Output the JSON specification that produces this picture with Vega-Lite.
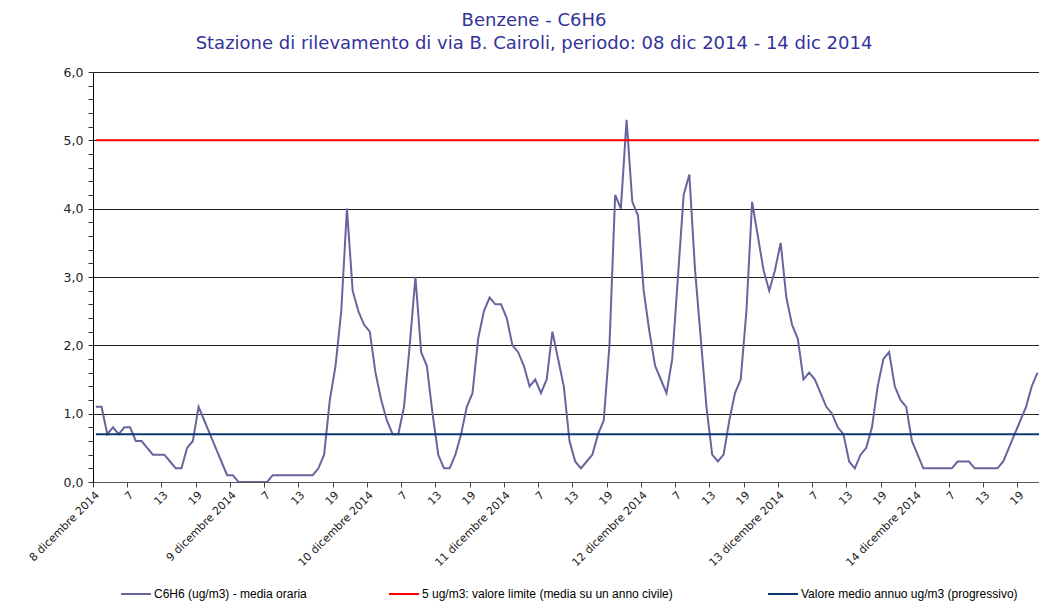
{
  "$schema": "https://vega.github.io/schema/vega-lite/v6.json",
  "width": 946,
  "height": 410,
  "autosize": {"type": "none"},
  "padding": {"left": 93, "top": 72, "right": 0, "bottom": 119},
  "background": "white",
  "title": {
    "text": ["Benzene - C6H6", "Stazione di rilevamento di via B. Cairoli, periodo: 08 dic 2014 - 14 dic 2014"],
    "font": "DejaVu Sans",
    "fontSize": 18,
    "fontWeight": "normal",
    "color": "#333399",
    "lineHeight": 23,
    "anchor": "middle",
    "dx": -32,
    "offset": 13
  },
  "config": {
    "view": {"stroke": null},
    "legend": {
      "orient": "none",
      "direction": "horizontal",
      "labelFont": "Liberation Sans",
      "labelFontSize": 12,
      "labelColor": "#000000",
      "labelOffset": 2,
      "labelLimit": 500,
      "symbolStrokeWidth": 2,
      "symbolSize": 900,
      "symbolType": "stroke",
      "padding": 0
    }
  },
  "data": {"values": [
    {"h":1,"v":1.1},{"h":2,"v":1.1},{"h":3,"v":0.7},{"h":4,"v":0.8},{"h":5,"v":0.7},{"h":6,"v":0.8},{"h":7,"v":0.8},{"h":8,"v":0.6},{"h":9,"v":0.6},{"h":10,"v":0.5},{"h":11,"v":0.4},{"h":12,"v":0.4},{"h":13,"v":0.4},{"h":14,"v":0.3},{"h":15,"v":0.2},{"h":16,"v":0.2},{"h":17,"v":0.5},{"h":18,"v":0.6},{"h":19,"v":1.1},{"h":20,"v":0.9},{"h":21,"v":0.7},{"h":22,"v":0.5},{"h":23,"v":0.3},{"h":24,"v":0.1},
    {"h":25,"v":0.1},{"h":26,"v":0},{"h":27,"v":0},{"h":28,"v":0},{"h":29,"v":0},{"h":30,"v":0},{"h":31,"v":0},{"h":32,"v":0.1},{"h":33,"v":0.1},{"h":34,"v":0.1},{"h":35,"v":0.1},{"h":36,"v":0.1},{"h":37,"v":0.1},{"h":38,"v":0.1},{"h":39,"v":0.1},{"h":40,"v":0.2},{"h":41,"v":0.4},{"h":42,"v":1.2},{"h":43,"v":1.7},{"h":44,"v":2.5},{"h":45,"v":4.0},{"h":46,"v":2.8},{"h":47,"v":2.5},{"h":48,"v":2.3},
    {"h":49,"v":2.2},{"h":50,"v":1.6},{"h":51,"v":1.2},{"h":52,"v":0.9},{"h":53,"v":0.7},{"h":54,"v":0.7},{"h":55,"v":1.1},{"h":56,"v":2.0},{"h":57,"v":3.0},{"h":58,"v":1.9},{"h":59,"v":1.7},{"h":60,"v":1.0},{"h":61,"v":0.4},{"h":62,"v":0.2},{"h":63,"v":0.2},{"h":64,"v":0.4},{"h":65,"v":0.7},{"h":66,"v":1.1},{"h":67,"v":1.3},{"h":68,"v":2.1},{"h":69,"v":2.5},{"h":70,"v":2.7},{"h":71,"v":2.6},{"h":72,"v":2.6},
    {"h":73,"v":2.4},{"h":74,"v":2.0},{"h":75,"v":1.9},{"h":76,"v":1.7},{"h":77,"v":1.4},{"h":78,"v":1.5},{"h":79,"v":1.3},{"h":80,"v":1.5},{"h":81,"v":2.2},{"h":82,"v":1.8},{"h":83,"v":1.4},{"h":84,"v":0.6},{"h":85,"v":0.3},{"h":86,"v":0.2},{"h":87,"v":0.3},{"h":88,"v":0.4},{"h":89,"v":0.7},{"h":90,"v":0.9},{"h":91,"v":2.0},{"h":92,"v":4.2},{"h":93,"v":4.0},{"h":94,"v":5.3},{"h":95,"v":4.1},{"h":96,"v":3.9},
    {"h":97,"v":2.8},{"h":98,"v":2.2},{"h":99,"v":1.7},{"h":100,"v":1.5},{"h":101,"v":1.3},{"h":102,"v":1.8},{"h":103,"v":3.0},{"h":104,"v":4.2},{"h":105,"v":4.5},{"h":106,"v":3.1},{"h":107,"v":2.1},{"h":108,"v":1.1},{"h":109,"v":0.4},{"h":110,"v":0.3},{"h":111,"v":0.4},{"h":112,"v":0.9},{"h":113,"v":1.3},{"h":114,"v":1.5},{"h":115,"v":2.5},{"h":116,"v":4.1},{"h":117,"v":3.6},{"h":118,"v":3.1},{"h":119,"v":2.8},{"h":120,"v":3.1},
    {"h":121,"v":3.5},{"h":122,"v":2.7},{"h":123,"v":2.3},{"h":124,"v":2.1},{"h":125,"v":1.5},{"h":126,"v":1.6},{"h":127,"v":1.5},{"h":128,"v":1.3},{"h":129,"v":1.1},{"h":130,"v":1.0},{"h":131,"v":0.8},{"h":132,"v":0.7},{"h":133,"v":0.3},{"h":134,"v":0.2},{"h":135,"v":0.4},{"h":136,"v":0.5},{"h":137,"v":0.8},{"h":138,"v":1.4},{"h":139,"v":1.8},{"h":140,"v":1.9},{"h":141,"v":1.4},{"h":142,"v":1.2},{"h":143,"v":1.1},{"h":144,"v":0.6},
    {"h":145,"v":0.4},{"h":146,"v":0.2},{"h":147,"v":0.2},{"h":148,"v":0.2},{"h":149,"v":0.2},{"h":150,"v":0.2},{"h":151,"v":0.2},{"h":152,"v":0.3},{"h":153,"v":0.3},{"h":154,"v":0.3},{"h":155,"v":0.2},{"h":156,"v":0.2},{"h":157,"v":0.2},{"h":158,"v":0.2},{"h":159,"v":0.2},{"h":160,"v":0.3},{"h":161,"v":0.5},{"h":162,"v":0.7},{"h":163,"v":0.9},{"h":164,"v":1.1},{"h":165,"v":1.4},{"h":166,"v":1.6}
  ]},
  "encoding": {
    "x": {
      "field": "h", "type": "quantitative",
      "scale": {"domain": [0.5, 166.27], "nice": false, "zero": false},
      "axis": {
        "title": null,
        "values": [0.5,6.5,12.5,18.5,24.5,30.5,36.5,42.5,48.5,54.5,60.5,66.5,72.5,78.5,84.5,90.5,96.5,102.5,108.5,114.5,120.5,126.5,132.5,138.5,144.5,150.5,156.5,162.5],
        "labelExpr": "(datum.value - 0.5) % 24 == 0 ? ((datum.value - 0.5) / 24 + 8) + ' dicembre 2014' : '' + ((datum.value - 0.5) % 24 + 1)",
        "labelAngle": -45,
        "labelAlign": "right",
        "labelBaseline": "top",
        "labelFont": "DejaVu Sans",
        "labelFontSize": 11,
        "labelColor": "#222222",
        "labelOverlap": false,
        "labelFlush": false,
        "labelBound": false,
        "labelPadding": 2,
        "tickSize": 5,
        "tickColor": "#444444",
        "domainColor": "#555555",
        "grid": false
      }
    },
    "y": {
      "field": "v", "type": "quantitative",
      "scale": {"domain": [0, 6], "nice": false},
      "axis": {
        "title": null,
        "values": [0,0.2,0.4,0.6,0.8,1,1.2,1.4,1.6,1.8,2,2.2,2.4,2.6,2.8,3,3.2,3.4,3.6,3.8,4,4.2,4.4,4.6,4.8,5,5.2,5.4,5.6,5.8,6],
        "labelExpr": "datum.value % 1 == 0 ? replace(format(datum.value, '.1f'), '.', ',') : ''",
        "labelFont": "DejaVu Sans",
        "labelFontSize": 12.5,
        "labelColor": "#222222",
        "labelOverlap": false,
        "labelBound": false,
        "labelFlush": false,
        "labelPadding": 5,
        "tickSize": 5,
        "tickColor": "#333333",
        "domainColor": "#000000",
        "grid": true,
        "gridColor": "#222222",
        "gridWidth": 1,
        "gridOpacity": {"condition": {"test": "datum.value % 1 == 0", "value": 1}, "value": 0}
      }
    }
  },
  "layer": [
    {
      "mark": {"type": "line", "strokeWidth": 2, "clip": true},
      "encoding": {
        "color": {
          "datum": "C6H6 (ug/m3)  - media oraria",
          "scale": {"range": ["#66669e"]},
          "legend": {"title": null, "legendX": 27, "legendY": 506}
        }
      }
    },
    {
      "data": {"values": [{"h": 1, "h2": 168, "v": 5}]},
      "mark": {"type": "rule", "strokeWidth": 2, "clip": true},
      "encoding": {
        "x2": {"field": "h2"},
        "color": {
          "datum": "5 ug/m3: valore limite (media su un anno civile)",
          "scale": {"range": ["#ff0000"]},
          "legend": {"title": null, "legendX": 295, "legendY": 506}
        }
      }
    },
    {
      "data": {"values": [{"h": 1, "h2": 168, "v": 0.7}]},
      "mark": {"type": "rule", "strokeWidth": 2, "clip": true},
      "encoding": {
        "x2": {"field": "h2"},
        "color": {
          "datum": "Valore medio annuo ug/m3 (progressivo)",
          "scale": {"range": ["#0a3a6e"]},
          "legend": {"title": null, "legendX": 674, "legendY": 506}
        }
      }
    }
  ],
  "resolve": {"scale": {"color": "independent"}}
}
